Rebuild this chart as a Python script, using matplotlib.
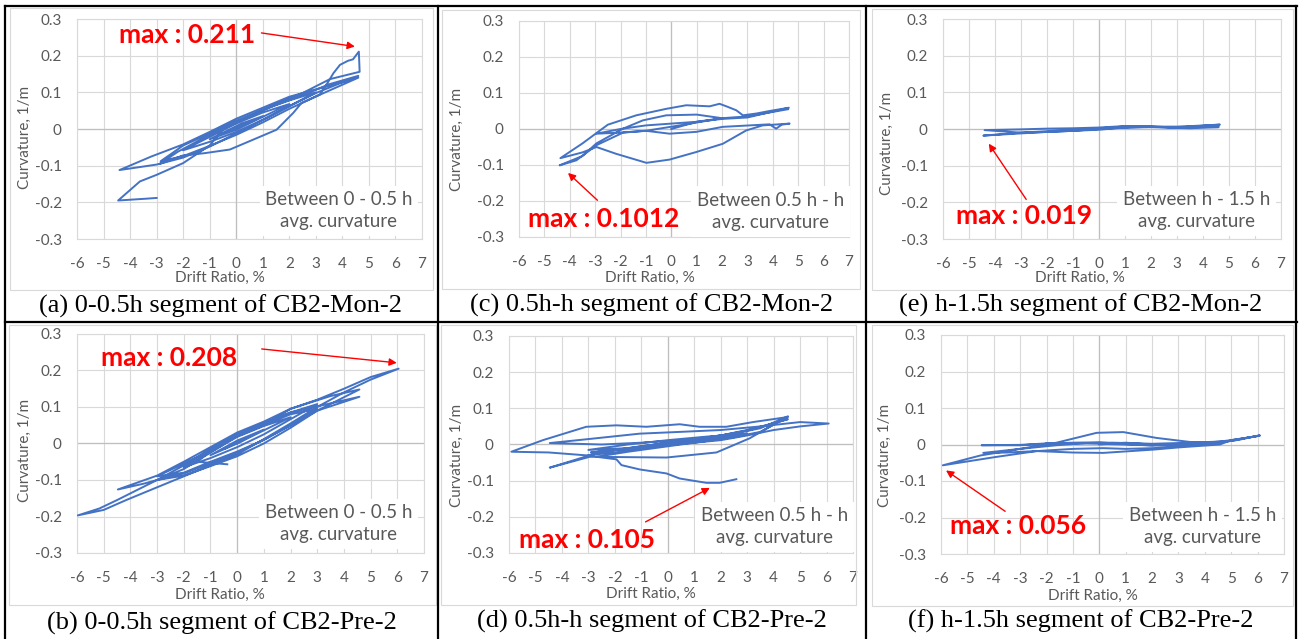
import matplotlib.pyplot as plt
from matplotlib.lines import Line2D
from matplotlib.patches import Rectangle

# values (drift ratio in %, curvature in 1/m)
a_drift = [0, 0.5, -0.5, 0, 1.0, 0.2, -1.0, 0, 2.0, 1.0, 0, -2.0, -1.0, 0, 1.0, 3.0, 2.0, 1.0, 0, -1.0,
           -2.0, -2.85, -2.0, -1.0, 0, 1.0, 2.0, 3.2, 4.6, 3.5, 2.0, 1.0, 0, -1.0, -2.0, -3.2, -4.4, -3.0,
           -2.0, -1.0, 0, 1.0, 2.0, 3.0, 4.6, 3.5, 2.5, 1.5, 0.5, -0.5, -1.5, -2.2, -2.88, -2.0, -1.2,
           -0.24, 0.64, 1.52, 2.15, 2.46, 3.15, 3.47, 3.66, 3.91, 4.21, 4.4, 4.62, 4.65, 3.53, 2.5, 1.5,
           0.5, -0.5, -1.0, -2.0, -3.0, -3.63, -4.45, -3.38, -3.0]
a_curv = [0, 0.018, -0.012, 0.002, 0.035, 0.015, -0.028, -0.002, 0.068, 0.045, 0.015, -0.058, -0.035,
          -0.008, 0.025, 0.100, 0.078, 0.052, 0.022, -0.012, -0.045, -0.088, -0.074, -0.046, -0.016,
          0.018, 0.055, 0.095, 0.140, 0.118, 0.088, 0.058, 0.028, -0.008, -0.042, -0.075, -0.112,
          -0.097, -0.078, -0.048, -0.012, 0.025, 0.062, 0.098, 0.145, 0.122, 0.092, 0.066, 0.035,
          0.002, -0.035, -0.062, -0.095, -0.072, -0.066, -0.056, -0.029, -0.002, 0.044, 0.071, 0.094,
          0.129, 0.152, 0.175, 0.186, 0.19, 0.211, 0.156, 0.136, 0.098, 0.068, 0.035, 0.0, -0.045,
          -0.093, -0.125, -0.143, -0.195, -0.19, -0.188]

b_drift = [0, 0.5, -0.5, 0, 1.0, 0, -1.0, 0, 2.0, 1.0, 0, -2.0, -1.0, 0, 1.0, 3.0, 2.0, 1.0, 0, -1.0,
           -2.0, -3.0, -2.0, -1.0, 0, 1.0, 2.0, 3.0, 2.0, 1.0, 0, -1.0, -2.0, -3.0, -2.0, -1.0, 0, 1.0,
           2.0, 3.0, 4.58, 3.5, 2.0, 1.0, 0, -1.0, -2.0, -3.0, -4.47,
           -3.5, -3.0, -2.0, -1.0, 0, 1.0, 2.0, 3.0, 4.58, 3.5, 2.0, 1.0, 0, -1.0, -2.0, -3.0, -4.5,
           -5.16, -5.97, -5.0, -4.16, -3.0, -2.0, -1.0, 0, 1.0, 2.0, 3.0, 4.0, 5.0, 6.05, 5.0, 4.0,
           3.0, 2.0, 1.0, 0, -1.0, -1.5, -0.37]
b_curv = [0, 0.02, -0.015, 0.002, 0.038, 0.008, -0.032, 0.0, 0.072, 0.048, 0.018, -0.065, -0.04, -0.01,
          0.025, 0.108, 0.085, 0.055, 0.025, -0.02, -0.055, -0.09, -0.08, -0.05, -0.022, 0.01, 0.05,
          0.095, 0.08, 0.05, 0.02, -0.025, -0.07, -0.1, -0.088, -0.062, -0.035, 0.0, 0.043, 0.09,
          0.148, 0.13, 0.095, 0.06, 0.03, -0.01, -0.05, -0.088, -0.126, -0.11, -0.1, -0.082,
          -0.055, -0.025, 0.01, 0.05, 0.09, 0.128, 0.11, 0.085, 0.055, 0.025, -0.015, -0.06, -0.1,
          -0.155, -0.178, -0.197, -0.182, -0.155, -0.12, -0.09, -0.06, -0.03, 0.012, 0.055, 0.1, 0.14,
          0.175, 0.205, 0.182, 0.15, 0.12, 0.095, 0.05, 0.02, -0.02, -0.05, -0.057]

c_drift = [0, 1.0, 2.0, 0.5, -1.0, -2.0, -2.95, -2.0, -1.0, 0, 1.0, 2.0, 3.0, 4.63, 3.87, 3.35, 2.82,
           2.56, 2.17, 1.9, 1.51, 0.59, -0.2, -1.38, -2.5, -3.5, -4.37, -3.5, -2.95, -2.17, -0.98,
           -0.07, 0.98, 2.03, 2.95, 3.6, 4.66, 4.35, 4.13, 3.87, 3.08, 2.03, 0.98, -0.07, -1.0, -1.9,
           -2.95, -3.74, -4.4, -3.5, -2.95, -1.9, -1.12, -0.2, 1.0, 2.0, 3.0, 3.8, 4.6]
c_curv = [0, 0.02, 0.03, 0.012, -0.005, -0.01, -0.013, 0.0, 0.01, 0.015, 0.02, 0.028, 0.032, 0.059,
          0.05, 0.043, 0.038, 0.052, 0.063, 0.07, 0.063, 0.066, 0.056, 0.038, 0.012, -0.04, -0.081,
          -0.065, -0.05, -0.069, -0.094, -0.085, -0.064, -0.041, -0.004, 0.01, 0.015, 0.012, 0.001,
          0.013, 0.01, 0.006, -0.008, -0.013, -0.005, -0.01, -0.045, -0.087, -0.101, -0.075, -0.04,
          0.001, 0.024, 0.038, 0.04, 0.03, 0.035, 0.045, 0.055]

d_drift = [0, 1.5, 3.0, 1.5, 0, -1.5, -2.9, -1.5, 0, 1.5, 3.0, 1.5, 0, -1.5, -3.0, -1.5, 0, 1.5, 3.1,
           4.54, 3.8, 3.0, 2.0, 1.0, 0, -1.0, -2.0,
           -2.95, -4.46, -3.5, -2.95, -1.5, -0.05, 1.84, 3.09, 4.54, 3.5, 2.5, 1.5, 0.5, -1.0, -2.5,
           -4.46, -3.0, -1.06, 0.5, 2.0, 3.5, 5.0, 6.08, 5.0, 4.0, 3.0, 2.0, 1.0, 0, -1.0, -2.0, -3.08,
           -4.5, -5.91, -4.72, -3.08, -1.94, -0.81, 0.45, 1.2, 2.21, 3.22, 4.54, 3.5, 2.5, 1.5, 0.5,
           -0.5, -1.5, -2.7, -1.94, -1.75, -1.06, -0.05, 0.45, 1.46, 1.96, 2.59]
d_curv = [0, 0.012, 0.03, 0.015, 0.0, -0.012, -0.022, -0.012, 0.002, 0.015, 0.03, 0.022, 0.012, 0.0,
          -0.015, -0.01, 0.005, 0.018, 0.04, 0.07, 0.055, 0.04,
          0.025, 0.015, 0.005, -0.005, -0.015, -0.03, -0.064, -0.045, -0.034, -0.035, -0.036, -0.022,
          0.017, 0.078, 0.045, 0.03, 0.02, 0.012, 0.005, 0.0, 0.004, 0.015, 0.03, 0.035, 0.04, 0.05,
          0.062, 0.058, 0.05, 0.04, 0.025, 0.012, 0.005, -0.002, -0.01, -0.022, -0.03, -0.022, -0.02,
          0.012, 0.049, 0.053, 0.049, 0.056, 0.049, 0.049, 0.062, 0.076, 0.035, 0.02, 0.01, 0.0,
          -0.01, -0.02, -0.034, -0.041, -0.057, -0.069, -0.08, -0.094, -0.106, -0.106, -0.096]

e_drift = [0, 1.0, 2.0, 3.0, 4.65, 3.0, 2.0, 1.0, 0, -1.0, -2.0, -3.0, -4.4, -3.0, -2.0, -1.0, 0, 1.0,
           2.0, 3.0, 3.5, 4.6, 3.5, 2.0, 1.0, 0, -1.0, -2.0, -3.0, -4.45, -3.0, -2.0, -1.0, 0, 1.0, 2.0,
           3.0, 4.0, 4.6]
e_curv = [0, 0.004, 0.006, 0.006, 0.012, 0.004, 0.006, 0.008, 0.004, 0.002, 0.001, -0.001, -0.003,
          -0.01, -0.008, -0.005, -0.002, 0.004, 0.005, 0.003, 0.002, 0.005, 0.006, 0.006, 0.007, 0.002,
          -0.002, -0.006, -0.01, -0.018, -0.012, -0.008, -0.005, 0.0, 0.005, 0.007, 0.004, 0.008, 0.009]

f_drift = [0, 1.0, 2.0, 0, -2.0, -3.0, -4.46, -3.0, -2.0, -1.0, 0, 1.0, 2.0, 3.0, 4.57, 3.0, 2.05, 1.0,
           0.15, -1.0, -2.37, -3.5, -4.4, -3.0, -1.62, -0.5, 0.5, 2.0, 3.0, 4.57, 5.2, 6.08, 5.0, 4.57,
           3.0, 2.05, 0.15, -1.0, -2.37, -4.0, -5.93, -4.5, -3.0, -1.62, -0.1, 0.91, 2.17, 3.43, 4.57,
           5.3, 6.08, 5.0, 3.5, 2.0, 1.0, 0, -1.0, -2.0]
f_curv = [0, 0.005, 0.0, 0.004, 0.003, -0.001, -0.002, -0.002, 0.002, 0.005, 0.006, 0.001, -0.003, 0.0,
          0.005, -0.004, -0.01, -0.012, -0.01, -0.012, -0.018, -0.022, -0.023, -0.012, -0.002, 0.004,
          0.005, 0.002, 0.004, 0.008, 0.014, 0.024, 0.012, 0.0, -0.008, -0.014, -0.023, -0.022, -0.018,
          -0.035, -0.057, -0.03, -0.012, 0.005, 0.032, 0.034, 0.018, 0.007, 0.005, 0.013, 0.025, 0.01,
          0.003, -0.002, 0.0, 0.002, 0.004, 0.003]

x_ticks = [-6, -5, -4, -3, -2, -1, 0, 1, 2, 3, 4, 5, 6, 7]
y_ticks = [-0.3, -0.2, -0.1, 0, 0.1, 0.2, 0.3]
y_tick_labels = ['-0.3', '-0.2', '-0.1', '0', '0.1', '0.2', '0.3']

captions = ['(a) 0-0.5h segment of CB2-Mon-2', '(b) 0-0.5h segment of CB2-Pre-2',
            '(c) 0.5h-h segment of CB2-Mon-2', '(d) 0.5h-h segment of CB2-Pre-2',
            '(e) h-1.5h segment of CB2-Mon-2', '(f) h-1.5h segment of CB2-Pre-2']
zone_text = ['Between 0 - 0.5 h', 'Between 0 - 0.5 h', 'Between 0.5 h - h',
             'Between 0.5 h - h', 'Between h - 1.5 h', 'Between h - 1.5 h']
max_text = ['max : 0.211', 'max : 0.208', 'max : 0.1012', 'max : 0.105', 'max : 0.019', 'max : 0.056']

series = [(a_drift, a_curv), (b_drift, b_curv), (c_drift, c_curv),
          (d_drift, d_curv), (e_drift, e_curv), (f_drift, f_curv)]

# layout (pixels of the 1301x639 image)
W, H = 1301, 639
plot_box = [(77, 19, 422, 239), (77, 334, 424, 553), (519, 21, 849, 237),
            (509, 336, 853, 553), (943, 19, 1281, 239), (941, 335, 1284, 554)]
chart_box = [(10, 8, 433, 290), (9, 325, 436, 605), (442, 10, 860, 289),
             (441, 325, 856, 605), (872, 9, 1293, 290), (872, 325, 1293, 606)]
ylabel_xy = [(25, 137), (25, 450), (457, 139), (457, 455), (887, 143), (885, 455)]
xlabel_xy = [(220, 278), (220, 595), (650, 278), (651, 594), (1080, 278), (1093, 596)]
caption_xy = [(221, 306), (222, 623), (652, 305), (652, 621), (1081, 305), (1081, 621)]
zone_xy = [(3.87, -0.223), (3.81, -0.22), (3.91, -0.229), (4.04, -0.227), (3.75, -0.223), (3.9, -0.225)]
max_xy = [(-1.85, 0.257), (-2.56, 0.234), (-2.66, -0.249), (-3.04, -0.263), (-2.89, -0.238), (-3.09, -0.224)]
arrow_from = [(0.95, 0.262), (0.92, 0.259), (-2.91, -0.198), (-0.84, -0.214), (-2.8, -0.192), (-3.57, -0.183)]
arrow_to = [(4.47, 0.225), (5.98, 0.221), (-4.07, -0.122), (1.59, -0.12), (-4.24, -0.040), (-5.81, -0.071)]

blue = '#4472C4'
grey_txt = '#595959'
grid_c = '#D9D9D9'
sans = ['Lato', 'DejaVu Sans']


def fx(px):
    return px / W


def fy(py):
    return 1 - py / H


fig = plt.figure(figsize=(W / 100, H / 100), dpi=100)

for i in range(6):
    l, t, r, b = plot_box[i]
    ax = fig.add_axes([fx(l), fy(b), (r - l) / W, (b - t) / H])
    ax.set_xlim(-6, 7)
    ax.set_ylim(-0.3, 0.3)
    ax.set_xticks(x_ticks, [str(v) for v in x_ticks])
    ax.set_yticks(y_ticks, y_tick_labels)
    ax.tick_params(length=0, labelsize=11, labelcolor=grey_txt)
    ax.tick_params(axis='y', pad=11)
    ax.tick_params(axis='x', pad=13)
    for lab in ax.get_xticklabels() + ax.get_yticklabels():
        lab.set_family(sans)
    ax.grid(True, color=grid_c, lw=0.8)
    ax.set_axisbelow(True)
    for s in ax.spines.values():
        s.set_color(grid_c)
        s.set_linewidth(0.8)
    ax.axhline(0, color='#BFBFBF', lw=0.9, zorder=1)
    ax.axvline(0, color='#BFBFBF', lw=0.9, zorder=1)

    xs, ys = series[i]
    ax.plot(xs, ys, color=blue, lw=1.4, zorder=3)

    ax.text(zone_xy[i][0], zone_xy[i][1], zone_text[i] + '\navg. curvature', ha='center', va='center',
            fontsize=13.5, color=grey_txt, family=sans, linespacing=1.35, zorder=4,
            bbox=dict(boxstyle='square,pad=0.3', fc='white', ec='none'))
    ax.text(max_xy[i][0], max_xy[i][1], max_text[i], ha='center', va='center', fontsize=19,
            fontweight='bold', color='#FF0000', family=sans, zorder=5)
    ax.annotate('', xy=arrow_to[i], xytext=arrow_from[i],
                arrowprops=dict(arrowstyle='-|>', color='#FF0000', lw=1.0, mutation_scale=11,
                                shrinkA=0, shrinkB=0), zorder=5)

    fig.text(fx(ylabel_xy[i][0]), fy(ylabel_xy[i][1]), 'Curvature, 1/m', rotation=90, ha='center',
             va='center', fontsize=11, color=grey_txt, family=sans)
    fig.text(fx(xlabel_xy[i][0]), fy(xlabel_xy[i][1]), 'Drift Ratio, %', ha='center', va='center',
             fontsize=11, color=grey_txt, family=sans)
    fig.text(fx(caption_xy[i][0]), fy(caption_xy[i][1]), captions[i], ha='center', va='center',
             fontsize=19, color='black', family=['Liberation Serif', 'DejaVu Serif'])

    cl, ct, cr, cb = chart_box[i]
    fig.add_artist(Rectangle((fx(cl), fy(cb)), (cr - cl) / W, (cb - ct) / H, fill=False,
                             ec=grid_c, lw=0.8, transform=fig.transFigure))

# table rules around the six panels
rules = [((5, 6), (5, 639)), ((5, 6), (1297, 6)), ((438, 6), (438, 639)), ((866, 6), (866, 639)),
         ((1296, 6), (1296, 639)), ((5, 322), (1297, 322))]
for p0, p1 in rules:
    fig.add_artist(Line2D([fx(p0[0]), fx(p1[0])], [fy(p0[1]), fy(p1[1])], color='black', lw=1.6,
                          transform=fig.transFigure))

fig.savefig('out.png', dpi=100)
